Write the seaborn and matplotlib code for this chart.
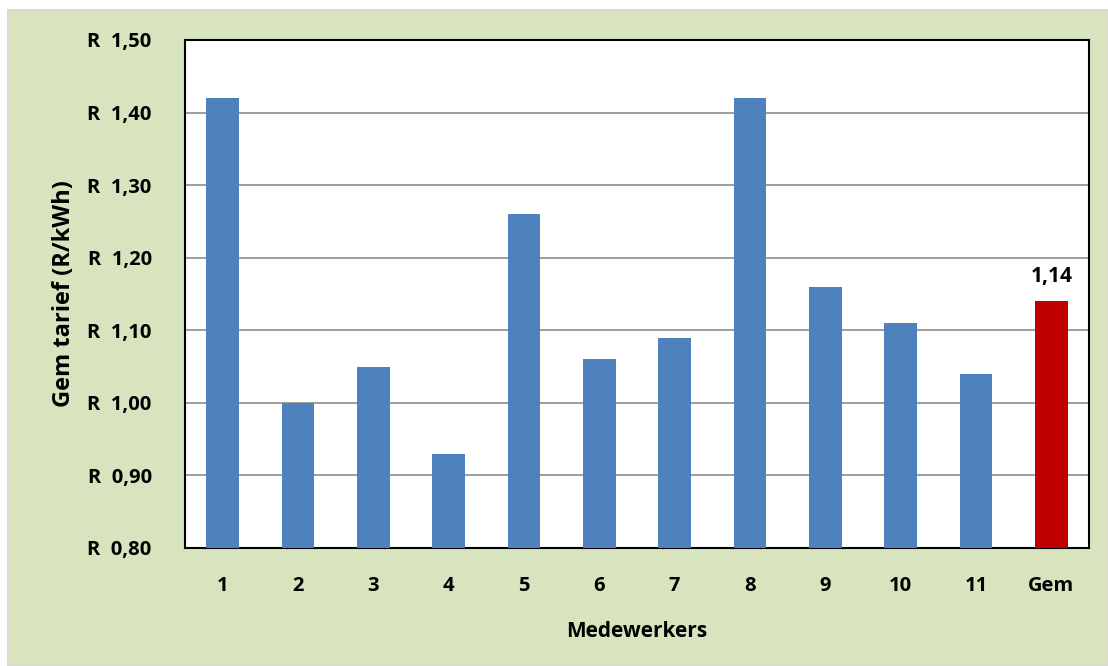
import matplotlib
matplotlib.use("Agg")
import matplotlib.pyplot as plt
import seaborn as sns
import pandas as pd
from matplotlib.patches import Rectangle
from matplotlib.ticker import FuncFormatter, MultipleLocator

categories = ["1", "2", "3", "4", "5", "6", "7", "8", "9", "10", "11", "Gem"]
values = [1.42, 1.00, 1.05, 0.93, 1.26, 1.06, 1.09, 1.42, 1.16, 1.11, 1.04, 1.14]
bar_colors = ["#4F81BD"] * 11 + ["#C00000"]
avg_label = "1,14"

sns.set_theme(style="white")
plt.rcParams["font.family"] = ["Open Sans", "DejaVu Sans"]

W, H = 1108, 666
fig = plt.figure(figsize=(W / 100, H / 100), dpi=100)
fig.patch.set_facecolor("white")
bg = Rectangle((8 / W, 0), 1 - 8 / W, 1 - 10 / H, transform=fig.transFigure,
               facecolor="#D7E4BD", edgecolor="#D9D9D9", linewidth=1.5, zorder=-10)
fig.add_artist(bg)

left, right, top, bottom = 185, 1089, 40, 548
ax = fig.add_axes([left / W, 1 - bottom / H, (right - left) / W, (bottom - top) / H])
ax.set_zorder(5)
ax.set_facecolor("white")

df = pd.DataFrame({"cat": categories, "val": values})
sns.barplot(data=df, x="cat", y="val", hue="cat", palette=bar_colors,
            legend=False, width=0.43, ax=ax, saturation=1, zorder=3, linewidth=0)

ax.set_ylim(0.80, 1.50)
ax.yaxis.set_major_locator(MultipleLocator(0.10))
ax.yaxis.set_major_formatter(FuncFormatter(lambda v, p: ("R  %.2f" % v).replace(".", ",")))
ax.grid(axis="y", color="#8C8C8C", linewidth=1.2, zorder=0)
ax.set_axisbelow(True)
for s in ax.spines.values():
    s.set_color("black")
    s.set_linewidth(1.5)

ax.tick_params(axis="both", length=0, labelsize=14.5, colors="black")
ax.tick_params(axis="y", pad=24)
ax.tick_params(axis="x", pad=20)
for lbl in ax.get_xticklabels() + ax.get_yticklabels():
    lbl.set_fontweight("bold")

ax.set_xlabel("Medewerkers", fontsize=15, fontweight="bold", labelpad=18, color="black")
ax.set_ylabel("Gem tarief (R/kWh)", fontsize=17, fontweight="bold", labelpad=8, color="black")

ax.text(11, values[-1] + 0.02, avg_label, ha="center", va="bottom",
        fontsize=15, fontweight="bold", color="black")

fig.savefig("out.png", dpi=100, facecolor=fig.get_facecolor())
